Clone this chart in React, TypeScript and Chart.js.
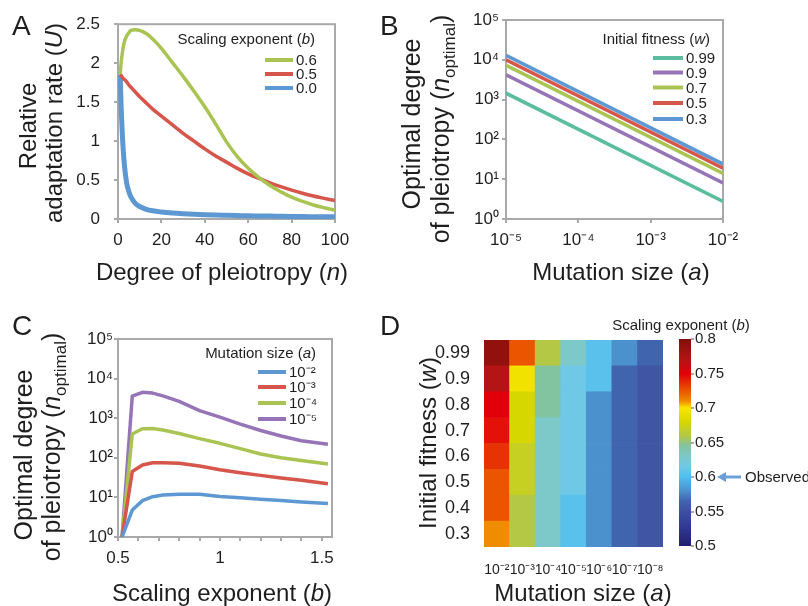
import React, { useEffect, useRef } from 'react';
import { Chart, registerables } from 'chart.js';

Chart.register(...registerables);

const FONT = '"Liberation Sans", Arial, Helvetica, sans-serif';
const INK = '#1e1e1e';
const AXIS = '#a9a9a9';

const GREEN = '#a9c452';
const RED = '#d6564b';
const BLUE = '#5d98d3';
const PURPLE = '#9574b8';
const TEAL = '#5cbd9e';

// ---------- Panel A: relative adaptation rate vs degree of pleiotropy ----------
const pleiotropyN = [1, 1.5, 2, 2.5, 3, 4, 5, 6, 8, 10, 13, 16, 20, 25, 30, 35, 40, 45, 50, 55, 60, 65, 70, 75, 80, 85, 90, 95, 100];
const rateB06 = [1.86, 2.02, 2.13, 2.22, 2.28, 2.35, 2.39, 2.42, 2.43, 2.42, 2.38, 2.31, 2.19, 2.01, 1.83, 1.64, 1.44, 1.22, 0.99, 0.8, 0.65, 0.53, 0.43, 0.35, 0.28, 0.225, 0.18, 0.145, 0.115];
const rateB05 = [1.86, 1.84, 1.82, 1.8, 1.79, 1.76, 1.72, 1.69, 1.63, 1.57, 1.49, 1.41, 1.32, 1.21, 1.1, 1.0, 0.9, 0.81, 0.73, 0.65, 0.58, 0.52, 0.465, 0.415, 0.37, 0.33, 0.295, 0.265, 0.237];
const rateB00 = [1.85, 1.4, 1.08, 0.85, 0.68, 0.46, 0.35, 0.28, 0.2, 0.16, 0.125, 0.105, 0.09, 0.077, 0.068, 0.061, 0.055, 0.05, 0.047, 0.044, 0.041, 0.039, 0.037, 0.035, 0.033, 0.031, 0.03, 0.029, 0.028];
const exponentLabelsA = ['0.6', '0.5', '0.0'];
const aXTickValues = [0, 20, 40, 60, 80, 100];
const aXTickLabels = ['0', '20', '40', '60', '80', '100'];
const aYTickValues = [0, 0.5, 1, 1.5, 2, 2.5];
const aYTickLabels = ['0', '0.5', '1', '1.5', '2', '2.5'];

// ---------- Panel B: optimal pleiotropy vs mutation size ----------
const mutationSizeB = [1e-5, 1e-2];
const nOptW099 = [1450, 2.75];
const nOptW09 = [4200, 8];
const nOptW07 = [7300, 14];
const nOptW05 = [10000, 19];
const nOptW03 = [13000, 24];
const fitnessLabelsB = ['0.99', '0.9', '0.7', '0.5', '0.3'];
const bXTickValues = [1e-5, 1e-4, 1e-3, 1e-2];
const bXTickLabels = ['10⁻⁵', '10⁻⁴', '10⁻³', '10⁻²'];
const decadeValues = [1, 10, 100, 1000, 10000, 100000];
const decadeLabels = ['10⁰', '10¹', '10²', '10³', '10⁴', '10⁵'];

// ---------- Panel C: optimal pleiotropy vs scaling exponent ----------
const scalingB = [0.52, 0.57, 0.62, 0.67, 0.72, 0.8, 0.9, 1.0, 1.1, 1.2, 1.3, 1.4, 1.53];
const nOptA2 = [1, 4.8, 8.3, 10.4, 11.5, 12, 12, 10.6, 9.8, 9.0, 8.3, 7.7, 7.0];
const nOptA3 = [1, 45, 66, 75, 75, 73, 62, 50, 42, 36, 31, 27, 22];
const nOptA4 = [1, 400, 540, 550, 505, 410, 305, 232, 170, 125, 100, 85, 70];
const nOptA5 = [1, 3600, 4500, 4300, 3650, 2650, 1560, 1060, 710, 490, 355, 270, 220];
const mutationLabelsC = ['10⁻²', '10⁻³', '10⁻⁴', '10⁻⁵'];
const cXTickValues = [0.5, 0.6, 0.7, 0.8, 0.9, 1.0, 1.1, 1.2, 1.3, 1.4, 1.5];
const cXTickLabels = ['0.5', '', '', '', '', '1', '', '', '', '', '1.5'];

// ---------- Panel D: heatmap of scaling exponent ----------
const mutationLabelsD = ['10⁻²', '10⁻³', '10⁻⁴', '10⁻⁵', '10⁻⁶', '10⁻⁷', '10⁻⁸'];
const fitnessLabelsD = ['0.99', '0.9', '0.8', '0.7', '0.6', '0.5', '0.4', '0.3'];
const exponentGrid = [
  [0.79, 0.725, 0.66, 0.63, 0.605, 0.58, 0.565],
  [0.77, 0.695, 0.645, 0.615, 0.605, 0.565, 0.555],
  [0.75, 0.68, 0.645, 0.615, 0.58, 0.565, 0.555],
  [0.745, 0.68, 0.63, 0.615, 0.58, 0.565, 0.555],
  [0.735, 0.67, 0.63, 0.615, 0.58, 0.565, 0.555],
  [0.725, 0.67, 0.63, 0.615, 0.58, 0.565, 0.555],
  [0.725, 0.66, 0.63, 0.605, 0.58, 0.565, 0.555],
  [0.71, 0.66, 0.63, 0.605, 0.58, 0.565, 0.555],
];
const colorbarTickValues = [0.5, 0.55, 0.6, 0.65, 0.7, 0.75, 0.8];
const colorbarTickLabels = ['0.5', '0.55', '0.6', '0.65', '0.7', '0.75', '0.8'];
const observedExponent = 0.6;
const cmapStops = [0.5, 0.53, 0.555, 0.565, 0.58, 0.6, 0.615, 0.63, 0.645, 0.66, 0.68, 0.7, 0.71, 0.725, 0.75, 0.77, 0.8];
const cmapColors: number[][] = [
  [35, 30, 110], [50, 60, 150], [65, 85, 165], [65, 100, 175], [75, 145, 205], [80, 190, 240],
  [110, 200, 230], [125, 200, 200], [130, 195, 160], [180, 200, 70], [215, 215, 0], [250, 230, 0],
  [240, 140, 0], [235, 85, 0], [225, 0, 10], [180, 20, 20], [130, 15, 10],
];

function colorFor(v: number): string {
  if (v <= cmapStops[0]) return `rgb(${cmapColors[0].join(',')})`;
  for (let i = 1; i < cmapStops.length; i++) {
    if (v <= cmapStops[i]) {
      const t = (v - cmapStops[i - 1]) / (cmapStops[i] - cmapStops[i - 1]);
      const a = cmapColors[i - 1];
      const b = cmapColors[i];
      const c = a.map((x, k) => Math.round(x + (b[k] - x) * t));
      return `rgb(${c.join(',')})`;
    }
  }
  return `rgb(${cmapColors[cmapColors.length - 1].join(',')})`;
}

// ---------- rich text helpers ----------
type Seg = { t: string; it?: boolean; sub?: boolean; sup?: boolean };
type Rich = { segs: Seg[]; x: number; y: number; size: number; rot?: number; align?: 'left' | 'center' | 'right'; color?: string };
type Legend = { title: Rich; x1: number; x2: number; tx: number; ys: number[]; size: number; lw: number };
type Observed = { value: number; x0: number; x1: number; tx: number; size: number };
type Decor = { box?: boolean; texts?: Rich[]; legend?: Legend; observed?: Observed };

function segFont(s: Seg, size: number) {
  const sz = s.sub || s.sup ? Math.round(size * 0.66) : size;
  return `${s.it ? 'italic ' : ''}${sz}px ${FONT}`;
}

function drawRich(ctx: CanvasRenderingContext2D, r: Rich) {
  ctx.save();
  ctx.translate(r.x, r.y);
  if (r.rot) ctx.rotate(r.rot);
  let w = 0;
  const widths = r.segs.map((s) => {
    ctx.font = segFont(s, r.size);
    const m = ctx.measureText(s.t).width;
    w += m;
    return m;
  });
  let x = r.align === 'left' ? 0 : r.align === 'right' ? -w : -w / 2;
  ctx.fillStyle = r.color || INK;
  ctx.textAlign = 'left';
  ctx.textBaseline = 'alphabetic';
  const base = r.size * 0.36;
  r.segs.forEach((s, i) => {
    ctx.font = segFont(s, r.size);
    let dy = base;
    if (s.sub) dy += r.size * 0.22;
    if (s.sup) dy -= r.size * 0.38;
    ctx.fillText(s.t, x, dy);
    x += widths[i];
  });
  ctx.restore();
}

function makeDecor(d: Decor) {
  return {
    id: 'decor',
    beforeDatasetsDraw(chart: any) {
      if (!d.box) return;
      const { left, top, right, bottom } = chart.chartArea;
      const ctx = chart.ctx as CanvasRenderingContext2D;
      ctx.save();
      ctx.strokeStyle = AXIS;
      ctx.lineWidth = 2;
      ctx.strokeRect(left, top, right - left, bottom - top);
      ctx.restore();
    },
    afterDraw(chart: any) {
      const ctx = chart.ctx as CanvasRenderingContext2D;
      (d.texts || []).forEach((t) => drawRich(ctx, t));
      const L = d.legend;
      if (L) {
        drawRich(ctx, L.title);
        chart.data.datasets.forEach((ds: any, i: number) => {
          const y = L.ys[i];
          ctx.save();
          ctx.strokeStyle = ds.borderColor;
          ctx.lineWidth = L.lw;
          ctx.beginPath();
          ctx.moveTo(L.x1, y);
          ctx.lineTo(L.x2, y);
          ctx.stroke();
          ctx.restore();
          drawRich(ctx, { segs: [{ t: ds.label }], x: L.tx, y, size: L.size, align: 'left' });
        });
      }
      const O = d.observed;
      if (O) {
        const y = chart.scales.y.getPixelForValue(O.value);
        ctx.save();
        ctx.strokeStyle = '#6ea0d7';
        ctx.fillStyle = '#6ea0d7';
        ctx.lineWidth = 3;
        ctx.beginPath();
        ctx.moveTo(O.x0 + 7, y);
        ctx.lineTo(O.x1, y);
        ctx.stroke();
        ctx.beginPath();
        ctx.moveTo(O.x0, y);
        ctx.lineTo(O.x0 + 9, y - 5);
        ctx.lineTo(O.x0 + 9, y + 5);
        ctx.closePath();
        ctx.fill();
        ctx.restore();
        drawRich(ctx, { segs: [{ t: 'Observed' }], x: O.tx, y, size: O.size, align: 'left' });
      }
    },
  };
}

function fixedTicks(values: number[]) {
  return (s: any) => {
    s.ticks = values.map((v) => ({ value: v }));
  };
}

function tickAxis(o: {
  type: string; min: number; max: number; values: number[]; labels: string[];
  size: number; pad: number; fit: (s: any) => void; tl?: number; position?: string;
}) {
  return {
    type: o.type,
    min: o.min,
    max: o.max,
    position: o.position,
    afterBuildTicks: fixedTicks(o.values),
    afterFit: o.fit,
    grid: { drawOnChartArea: false, color: AXIS, lineWidth: 2, tickLength: o.tl ?? 4, drawTicks: true },
    border: { display: false },
    ticks: {
      color: INK,
      font: { family: FONT, size: o.size },
      padding: o.pad,
      maxRotation: 0,
      minRotation: 0,
      autoSkip: false,
      callback: (_v: any, i: number) => o.labels[i],
    },
  };
}

const common = {
  responsive: false,
  animation: false,
  devicePixelRatio: 1,
  events: [] as string[],
};

function lineDs(label: string, xs: number[], ys: number[], color: string, width: number, extra: any = {}) {
  return {
    label,
    data: xs.map((x, i) => ({ x, y: ys[i] })),
    borderColor: color,
    backgroundColor: color,
    borderWidth: width,
    pointRadius: 0,
    fill: false,
    borderJoinStyle: 'round',
    ...extra,
  };
}

function buildConfigs(): any[] {
  const italic = (t: string) => ({ t, it: true });

  // Panel A
  const chartA = {
    type: 'line',
    data: {
      datasets: [
        lineDs(exponentLabelsA[0], pleiotropyN, rateB06, GREEN, 3.5, { tension: 0.4 }),
        lineDs(exponentLabelsA[1], pleiotropyN, rateB05, RED, 3.5, { tension: 0.4 }),
        lineDs(exponentLabelsA[2], pleiotropyN, rateB00, BLUE, 5, { cubicInterpolationMode: 'monotone' }),
      ],
    },
    options: {
      ...common,
      layout: { padding: { left: 0, top: 22, right: 473, bottom: 306 } },
      scales: {
        x: tickAxis({ type: 'linear', min: 0, max: 100, values: aXTickValues, labels: aXTickLabels, size: 17, pad: 7, fit: (s) => { s.height = 81; } }),
        y: tickAxis({ type: 'linear', min: 0, max: 2.5, values: aYTickValues, labels: aYTickLabels, size: 17, pad: 14, fit: (s) => { s.width = 118; } }),
      },
      plugins: { legend: { display: false }, tooltip: { enabled: false } },
    },
    plugins: [
      makeDecor({
        box: true,
        texts: [
          { segs: [{ t: 'A' }], x: 12, y: 25, size: 28, align: 'left' },
          { segs: [{ t: 'B' }], x: 380, y: 25, size: 28, align: 'left' },
          { segs: [{ t: 'Relative' }], x: 27, y: 126, size: 24, rot: -Math.PI / 2 },
          { segs: [{ t: 'adaptation rate (' }, italic('U'), { t: ')' }], x: 53, y: 123, size: 24, rot: -Math.PI / 2 },
          { segs: [{ t: 'Degree of pleiotropy (' }, italic('n'), { t: ')' }], x: 222, y: 271, size: 24 },
        ],
        legend: {
          title: { segs: [{ t: 'Scaling exponent (' }, italic('b'), { t: ')' }], x: 315, y: 39, size: 15, align: 'right' },
          x1: 265, x2: 293, tx: 296, ys: [60, 74, 88], size: 15, lw: 4,
        },
      }),
    ],
  };

  // Panel B
  const chartB = {
    type: 'line',
    data: {
      datasets: [
        lineDs(fitnessLabelsB[0], mutationSizeB, nOptW099, TEAL, 3.5),
        lineDs(fitnessLabelsB[1], mutationSizeB, nOptW09, PURPLE, 3.5),
        lineDs(fitnessLabelsB[2], mutationSizeB, nOptW07, GREEN, 3.5),
        lineDs(fitnessLabelsB[3], mutationSizeB, nOptW05, RED, 3.5),
        lineDs(fitnessLabelsB[4], mutationSizeB, nOptW03, BLUE, 3.5),
      ],
    },
    options: {
      ...common,
      layout: { padding: { left: 404, top: 20, right: 85, bottom: 306 } },
      scales: {
        x: tickAxis({ type: 'logarithmic', min: 1e-5, max: 1e-2, values: bXTickValues, labels: bXTickLabels, size: 17, pad: 7, fit: (s) => { s.height = 81; } }),
        y: tickAxis({ type: 'logarithmic', min: 1, max: 1e5, values: decadeValues, labels: decadeLabels, size: 17, pad: 3, fit: (s) => { s.width = 102; } }),
      },
      plugins: { legend: { display: false }, tooltip: { enabled: false } },
    },
    plugins: [
      makeDecor({
        box: true,
        texts: [
          { segs: [{ t: 'Optimal degree' }], x: 411, y: 124, size: 25, rot: -Math.PI / 2 },
          { segs: [{ t: 'of pleiotropy (' }, italic('n'), { t: 'optimal', sub: true }, { t: ')' }], x: 440, y: 129, size: 25, rot: -Math.PI / 2 },
          { segs: [{ t: 'Mutation size (' }, italic('a'), { t: ')' }], x: 621, y: 271, size: 24 },
        ],
        legend: {
          title: { segs: [{ t: 'Initial fitness (' }, italic('w'), { t: ')' }], x: 710, y: 39, size: 15, align: 'right' },
          x1: 653, x2: 683, tx: 686, ys: [58, 72.5, 87.5, 103, 119], size: 15, lw: 4,
        },
      }),
    ],
  };

  // Panel C
  const chartC = {
    type: 'line',
    data: {
      datasets: [
        lineDs(mutationLabelsC[0], scalingB, nOptA2, BLUE, 3.5),
        lineDs(mutationLabelsC[1], scalingB, nOptA3, RED, 3.5),
        lineDs(mutationLabelsC[2], scalingB, nOptA4, GREEN, 3.5),
        lineDs(mutationLabelsC[3], scalingB, nOptA5, PURPLE, 3.5),
      ],
    },
    options: {
      ...common,
      layout: { padding: { left: 0, top: 339, right: 476, bottom: 0 } },
      scales: {
        x: tickAxis({ type: 'linear', min: 0.5, max: 1.55, values: cXTickValues, labels: cXTickLabels, size: 17, pad: 7, fit: (s) => { s.height = 69; } }),
        y: tickAxis({ type: 'logarithmic', min: 1, max: 1e5, values: decadeValues, labels: decadeLabels, size: 17, pad: 1, fit: (s) => { s.width = 118; } }),
      },
      plugins: { legend: { display: false }, tooltip: { enabled: false } },
    },
    plugins: [
      makeDecor({
        box: true,
        texts: [
          { segs: [{ t: 'C' }], x: 12, y: 325, size: 28, align: 'left' },
          { segs: [{ t: 'D' }], x: 380, y: 325, size: 28, align: 'left' },
          { segs: [{ t: 'Optimal degree' }], x: 23, y: 455, size: 25, rot: -Math.PI / 2 },
          { segs: [{ t: 'of pleiotropy (' }, italic('n'), { t: 'optimal', sub: true }, { t: ')' }], x: 51, y: 447, size: 25, rot: -Math.PI / 2 },
          { segs: [{ t: 'Scaling exponent (' }, italic('b'), { t: ')' }], x: 222, y: 592, size: 24 },
        ],
        legend: {
          title: { segs: [{ t: 'Mutation size (' }, italic('a'), { t: ')' }], x: 316, y: 353, size: 15, align: 'right' },
          x1: 258, x2: 286, tx: 289, ys: [372, 387, 403, 419], size: 15, lw: 4,
        },
      }),
    ],
  };

  // Panel D heatmap
  const rowsBottomUp = fitnessLabelsD.map((_, i) => fitnessLabelsD.length - 1 - i);
  const chartD = {
    type: 'bar',
    data: {
      labels: mutationLabelsD,
      datasets: rowsBottomUp.map((r) => ({
        label: fitnessLabelsD[r],
        data: mutationLabelsD.map(() => 1),
        backgroundColor: exponentGrid[r].map(colorFor),
        borderWidth: 0,
        barPercentage: 1,
        categoryPercentage: 1,
        stack: 'grid',
      })),
    },
    options: {
      ...common,
      layout: { padding: { left: 404, top: 340, right: 145, bottom: 0 } },
      scales: {
        x: {
          type: 'category',
          stacked: true,
          afterFit: (s: any) => { s.height = 59; },
          grid: { display: false },
          border: { display: false },
          ticks: { color: INK, font: { family: FONT, size: 14 }, padding: 7, maxRotation: 0, minRotation: 0, autoSkip: false },
        },
        y: {
          type: 'linear',
          stacked: true,
          min: 0,
          max: fitnessLabelsD.length,
          afterBuildTicks: (s: any) => { s.ticks = rowsBottomUp.map((_, i) => ({ value: i + 0.5 })); },
          afterFit: (s: any) => { s.width = 80; },
          grid: { display: false },
          border: { display: false },
          ticks: {
            color: INK, font: { family: FONT, size: 18 }, padding: 6, autoSkip: false,
            callback: (_v: any, i: number) => fitnessLabelsD[rowsBottomUp[i]],
          },
        },
      },
      plugins: { legend: { display: false }, tooltip: { enabled: false } },
    },
    plugins: [
      makeDecor({
        texts: [
          { segs: [{ t: 'Initial fitness (' }, italic('w'), { t: ')' }], x: 427, y: 443, size: 24, rot: -Math.PI / 2 },
          { segs: [{ t: 'Mutation size (' }, italic('a'), { t: ')' }], x: 583, y: 592, size: 24 },
        ],
      }),
    ],
  };

  // Colorbar
  const chartBar = {
    type: 'bar',
    data: {
      labels: ['b'],
      datasets: [
        {
          label: 'Scaling exponent',
          data: [[colorbarTickValues[0], colorbarTickValues[colorbarTickValues.length - 1]]],
          backgroundColor: (c: any) => {
            const ca = c.chart.chartArea;
            if (!ca) return '#888';
            const g = c.chart.ctx.createLinearGradient(0, ca.bottom, 0, ca.top);
            const lo = cmapStops[0];
            const hi = cmapStops[cmapStops.length - 1];
            cmapStops.forEach((v, i) => g.addColorStop((v - lo) / (hi - lo), `rgb(${cmapColors[i].join(',')})`));
            return g;
          },
          borderWidth: 0,
          barPercentage: 1,
          categoryPercentage: 1,
        },
      ],
    },
    options: {
      ...common,
      layout: { padding: { left: 679, top: 339, right: 0, bottom: 60 } },
      scales: {
        x: { display: false },
        y: {
          ...tickAxis({ type: 'linear', min: 0.5, max: 0.8, values: colorbarTickValues, labels: colorbarTickLabels, size: 15, pad: 1, tl: 3, fit: (s) => { s.width = 117; }, position: 'right' }),
        },
      },
      plugins: { legend: { display: false }, tooltip: { enabled: false } },
    },
    plugins: [
      makeDecor({
        texts: [
          { segs: [{ t: 'Scaling exponent (' }, italic('b'), { t: ')' }], x: 681, y: 325, size: 15 },
        ],
        observed: { value: observedExponent, x0: 717, x1: 741, tx: 745, size: 15 },
      }),
    ],
  };

  return [chartA, chartB, chartC, chartD, chartBar];
}

export default function App() {
  const canvases = useRef<(HTMLCanvasElement | null)[]>([]);
  useEffect(() => {
    Chart.defaults.font.family = FONT;
    const configs = buildConfigs();
    const charts = configs.map((cfg, i) => new Chart(canvases.current[i] as HTMLCanvasElement, cfg));
    return () => charts.forEach((c) => c.destroy());
  }, []);
  return (
    <div style={{ position: 'absolute', left: 0, top: 0, width: 808, height: 606, background: '#fff', overflow: 'hidden' }}>
      {[0, 1, 2, 3, 4].map((i) => (
        <canvas
          key={i}
          ref={(el) => { canvases.current[i] = el; }}
          width={808}
          height={606}
          style={{ position: 'absolute', left: 0, top: 0, width: 808, height: 606 }}
        />
      ))}
    </div>
  );
}
